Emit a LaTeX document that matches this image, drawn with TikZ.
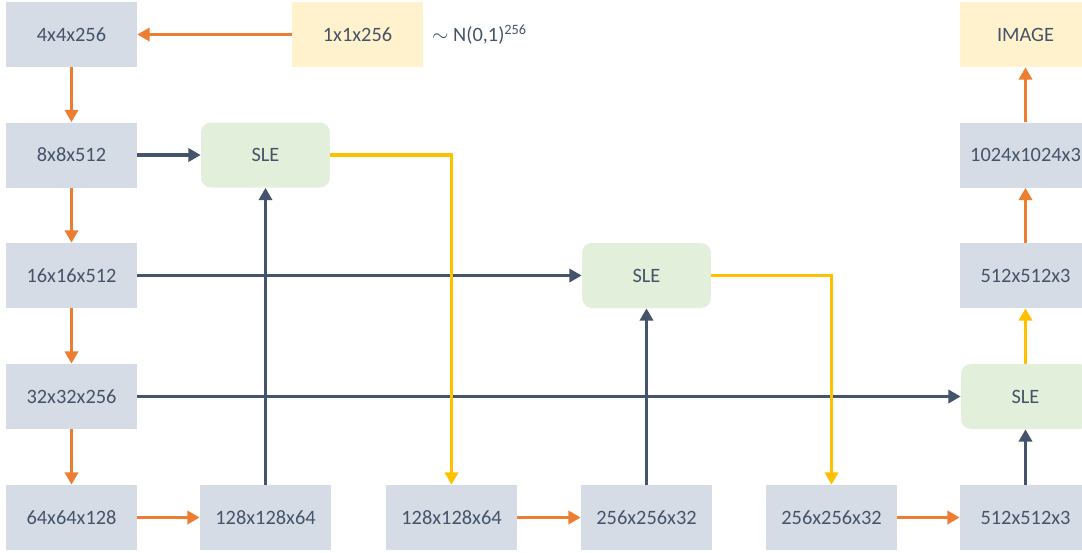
\documentclass[tikz,border=0pt]{standalone}
\usepackage{fontspec}
\setmainfont{Carlito}
\usetikzlibrary{arrows.meta,positioning}
\definecolor{ink}{HTML}{44546A}
\definecolor{boxgray}{HTML}{D6DCE5}
\definecolor{boxyellow}{HTML}{FFF2CC}
\definecolor{boxgreen}{HTML}{E2EFDA}
\definecolor{arrorange}{HTML}{ED7D31}
\definecolor{arrgold}{HTML}{FFC000}

\begin{document}
\begin{tikzpicture}[x=0.02cm,y=-0.02cm,
  every node/.style={font=\fontsize{11.6}{13}\selectfont, text=ink},
  fmap/.style={fill=boxgray, minimum width=2.62cm, minimum height=1.3cm, inner sep=0pt},
  noise/.style={fmap, fill=boxyellow},
  sle/.style={fmap, fill=boxgreen, rounded corners=0.2cm, minimum width=2.58cm},
  up/.style={-{Triangle[length=7pt, width=7.5pt]}, line width=1.75pt, arrorange},
  skip/.style={up, ink},
  exc/.style={up, arrgold}]
\clip (0,0) rectangle (1082,552);
% generator trunk
\node[fmap] (g4) at (71.5,34.5) {4x4x256};
\node[fmap] (g8) at (71.5,155) {8x8x512};
\node[fmap] (g16) at (71.5,275.5) {16x16x512};
\node[fmap] (g32) at (71.5,396.5) {32x32x256};
\node[fmap] (g64) at (71.5,517.5) {64x64x128};
\node[noise] (z) at (357.5,34.5) {1x1x256};
\node[anchor=west] (dist) at (426,34.5) {$\sim$ N(0,1)\textsuperscript{256}};
% high resolution stages
\node[fmap] (g128a) at (265.5,517.5) {128x128x64};
\node[fmap] (g128b) at (451.5,517.5) {128x128x64};
\node[fmap] (g256a) at (646.5,517.5) {256x256x32};
\node[fmap] (g256b) at (831.5,517.5) {256x256x32};
\node[fmap] (g512a) at (1025.5,517.5) {512x512x3};
\node[fmap] (g512b) at (1025.5,275.5) {512x512x3};
\node[fmap] (g1024) at (1025.5,155) {1024x1024x3};
\node[noise] (img) at (1025.5,34.5) {IMAGE};
% skip-layer excitation
\node[sle] (sle1) at (265.5,155) {SLE};
\node[sle] (sle2) at (646.5,275.5) {SLE};
\node[sle] (sle3) at (1025.5,396.5) {SLE};
% upsampling path
\draw[up] (z) -- (g4);
\draw[up] (g4) -- (g8);
\draw[up] (g8) -- (g16);
\draw[up] (g16) -- (g32);
\draw[up] (g32) -- (g64);
\draw[up] (g64) -- (g128a);
\draw[up] (g128b) -- (g256a);
\draw[up] (g256b) -- (g512a);
\draw[up] (g512b) -- (g1024);
\draw[up] (g1024) -- (img);
% SLE inputs
\draw[skip] (g8) -- (sle1);
\draw[skip] (g128a) -- (sle1);
\draw[skip] (g16) -- (sle2);
\draw[skip] (g256a) -- (sle2);
\draw[skip] (g32) -- (sle3);
\draw[skip] (g512a) -- (sle3);
% SLE outputs
\draw[exc] (sle1.east) -| (g128b.north);
\draw[exc] (sle2.east) -| (g256b.north);
\draw[exc] (sle3) -- (g512b);
\end{tikzpicture}
\end{document}
